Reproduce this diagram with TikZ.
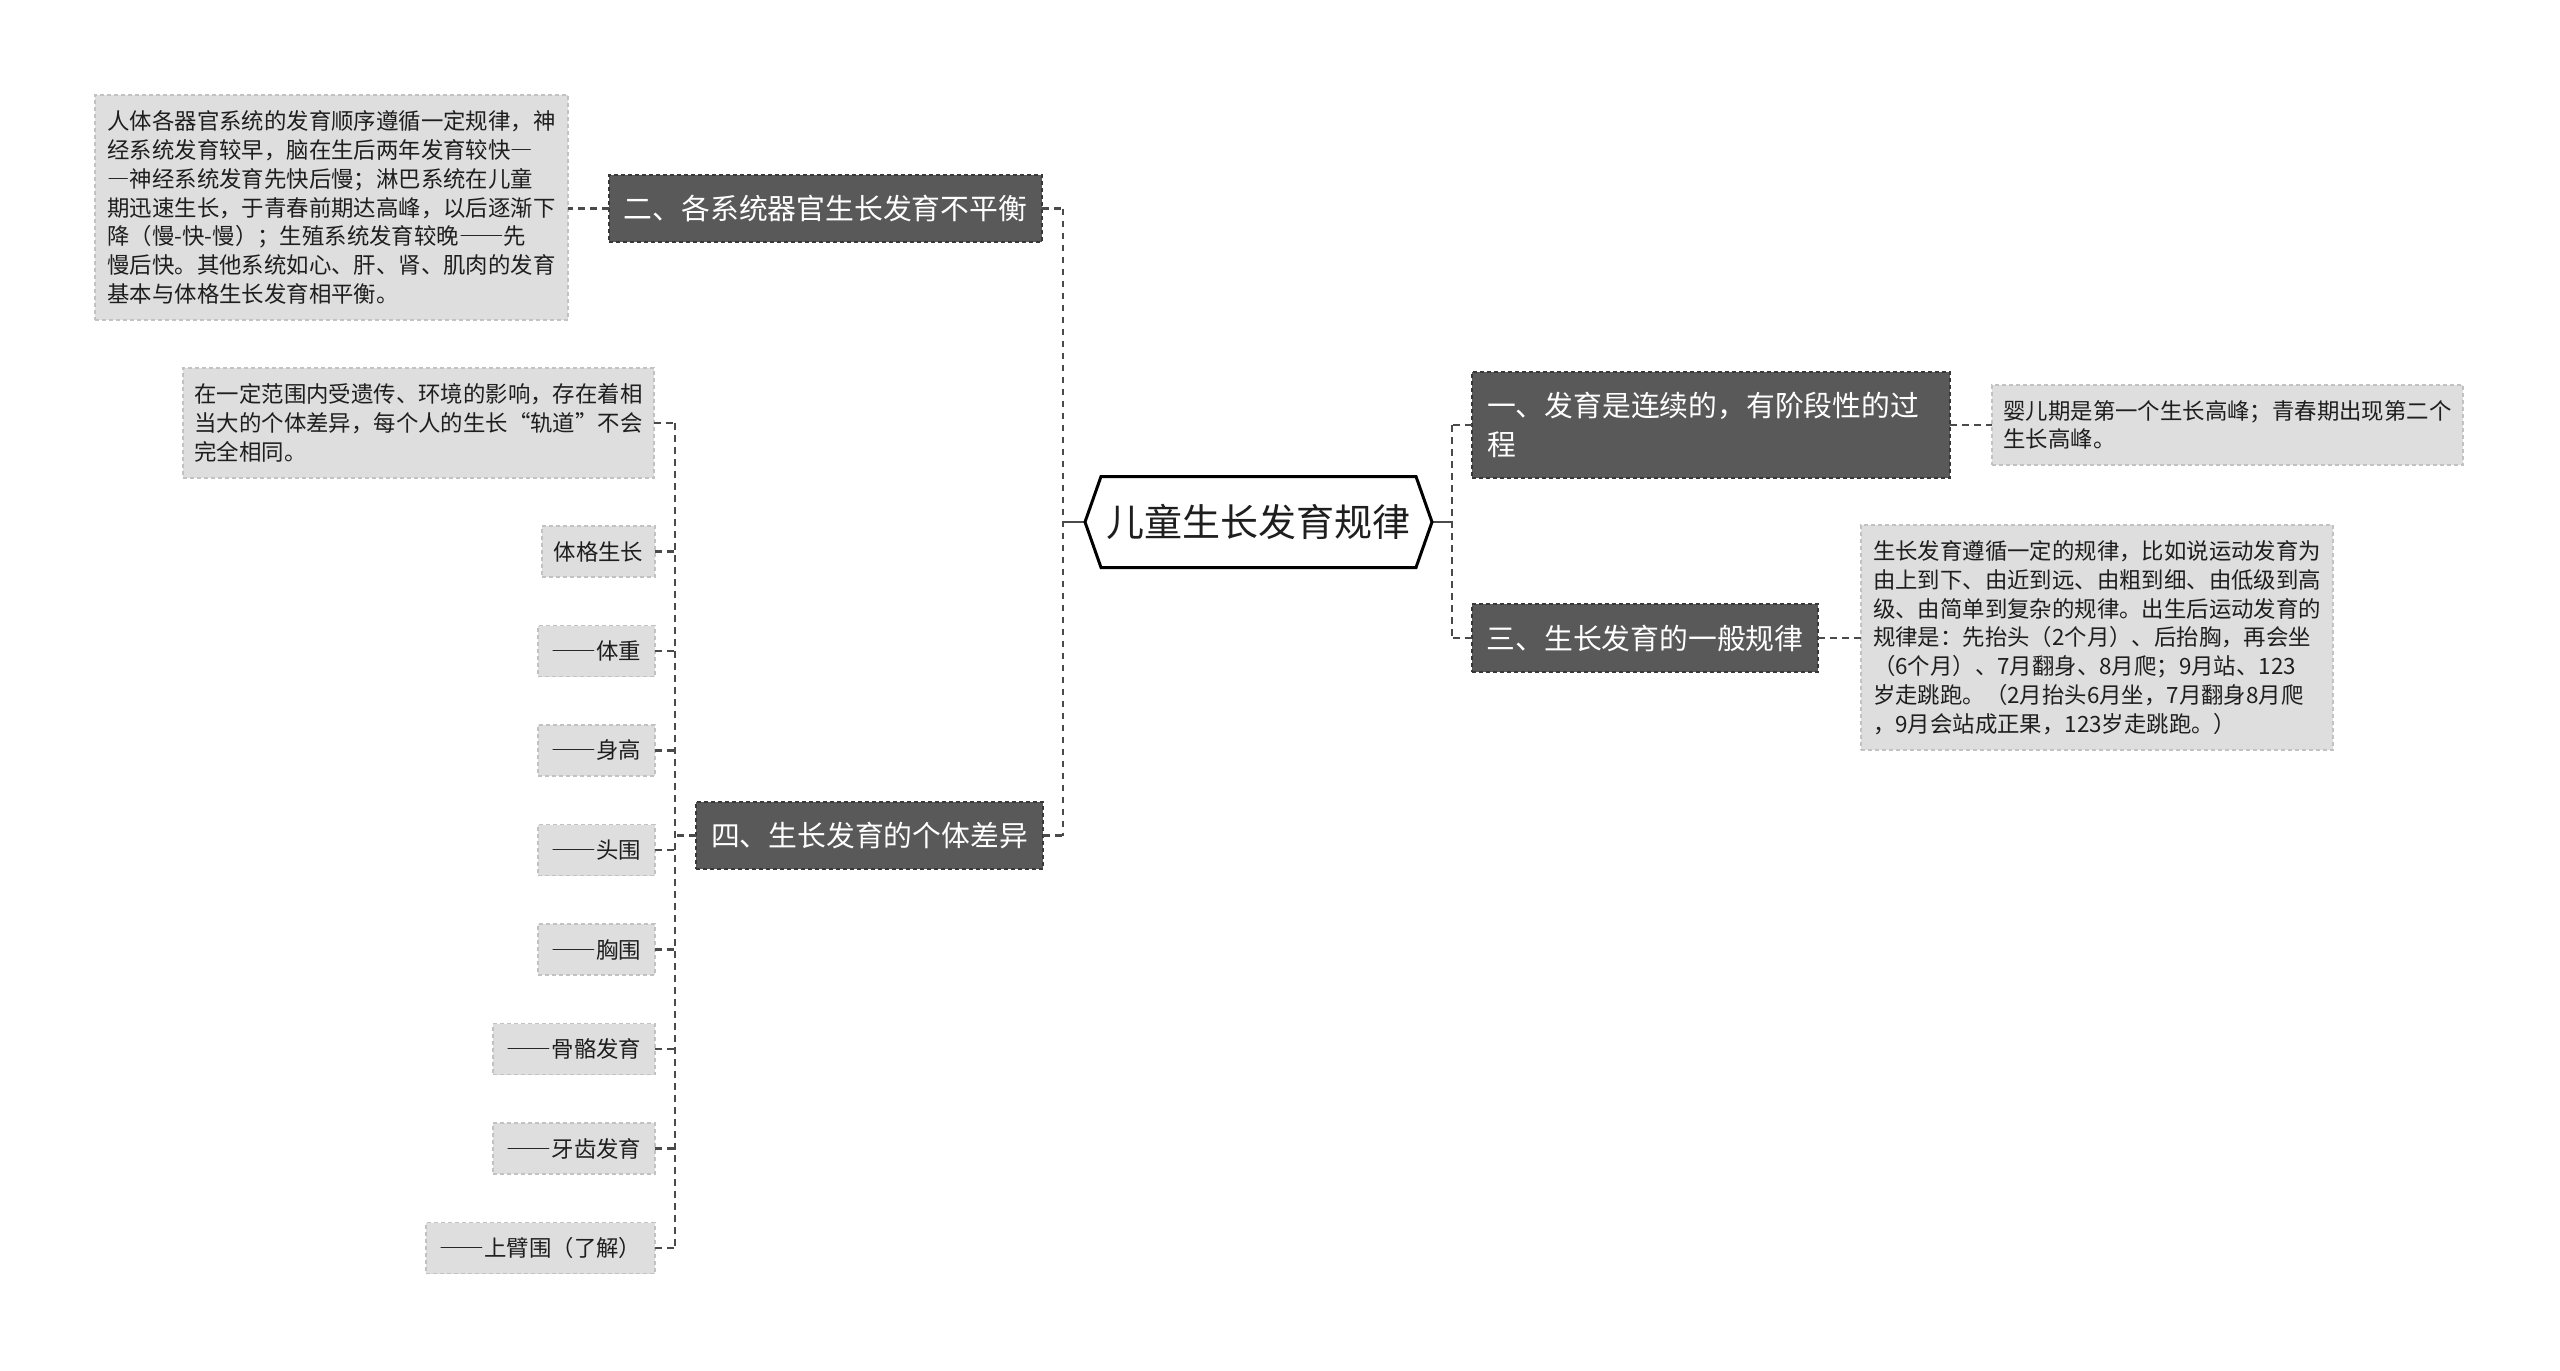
\documentclass[tikz,border=0pt]{standalone}
\usepackage{fontspec}
\setmainfont{Noto Sans CJK SC}
\newfontfamily\fwfont{Noto Sans CJK SC}[RawFeature=+fwid]
\newcommand{\dd}{{\fwfont ——}}
\newcommand{\sd}{{\fwfont —}}
\usetikzlibrary{calc}
\definecolor{darkfill}{HTML}{595959}
\definecolor{darkedge}{HTML}{383838}
\definecolor{lightfill}{HTML}{DEDEDE}
\definecolor{lightedge}{HTML}{C2C2C2}
\definecolor{linecol}{HTML}{4A4A4A}
\definecolor{inkcol}{HTML}{1E1E1E}
\tikzset{
  box/.style={inner sep=0pt, outer sep=0pt, line width=0.45pt, dash pattern=on 1.2pt off 0.9pt},
  darkbox/.style={box, fill=darkfill, draw=darkedge, text=white, font=\fontsize{8.64}{11.7}\selectfont},
  lightbox/.style={box, fill=lightfill, draw=lightedge, text=inkcol, font=\fontsize{6.72}{8.64}\selectfont, align=left},
  leafbox/.style={lightbox, minimum height=15.3pt, anchor=east},
  rootnode/.style={inner sep=0pt, outer sep=0pt, minimum width=104.1pt, minimum height=27.3pt, text=inkcol, font=\fontsize{11.4}{14}\selectfont},
  conn/.style={draw=linecol, line width=0.7pt, dash pattern=on 2pt off 1.6pt},
  solidconn/.style={draw=linecol, line width=0.7pt},
}
\begin{document}
\begin{tikzpicture}[x=0.3pt,y=-0.3pt]
\useasboundingbox[fill=white] (0,0) rectangle (2560,1370);

% root
\node[rootnode] (root) at (1258.5,522) {儿童生长发育规律};

% left branch
\node[darkbox, minimum width=129.9pt, minimum height=20.1pt] (n2) at (825.5,208.5) {二、各系统器官生长发育不平衡};
\node[lightbox, minimum width=141.9pt, minimum height=67.5pt] (d2) at (331.5,207.5) {人体各器官系统的发育顺序遵循一定规律，神\\经系统发育较早，脑在生后两年发育较快\sd\\\sd 神经系统发育先快后慢；淋巴系统在儿童\\期迅速生长，于青春前期达高峰，以后逐渐下\\降（慢-快-慢）；生殖系统发育较晚\dd 先\\慢后快。其他系统如心、肝、肾、肌肉的发育\\基本与体格生长发育相平衡。};

\node[darkbox, minimum width=104.1pt, minimum height=20.1pt] (n4) at (869.5,835.5) {四、生长发育的个体差异};
\node[lightbox, minimum width=141.3pt, minimum height=33pt] (d4) at (418.5,423) {在一定范围内受遗传、环境的影响，存在着相\\当大的个体差异，每个人的生长“轨道”不会\\完全相同。};

\node[leafbox, minimum width=33.9pt] (l1) at (655,551.5) {体格生长};
\node[leafbox, minimum width=35.1pt] (l2) at (655,651) {\dd 体重};
\node[leafbox, minimum width=35.1pt] (l3) at (655,750.5) {\dd 身高};
\node[leafbox, minimum width=35.1pt] (l4) at (655,850) {\dd 头围};
\node[leafbox, minimum width=35.1pt] (l5) at (655,949.5) {\dd 胸围};
\node[leafbox, minimum width=48.6pt] (l6) at (655,1049) {\dd 骨骼发育};
\node[leafbox, minimum width=48.6pt] (l7) at (655,1148.5) {\dd 牙齿发育};
\node[leafbox, minimum width=68.7pt] (l8) at (655,1248) {\dd 上臂围（了解）};

% right branch
\node[darkbox, minimum width=143.4pt, minimum height=31.8pt, text width=134.4pt, align=left] (n1) at (1711,425) {一、发育是连续的，有阶段性的过\\程};
\node[lightbox, minimum width=141.3pt, minimum height=24pt] (d1) at (2227.5,425) {婴儿期是第一个生长高峰；青春期出现第二个\\生长高峰。};

\node[darkbox, minimum width=103.8pt, minimum height=20.4pt] (n3) at (1645,638) {三、生长发育的一般规律};
\node[lightbox, minimum width=141.6pt, minimum height=67.5pt] (d3) at (2097,637.5) {生长发育遵循一定的规律，比如说运动发育为\\由上到下、由近到远、由粗到细、由低级到高\\级、由简单到复杂的规律。出生后运动发育的\\规律是：先抬头（2个月）、后抬胸，再会坐\\（6个月）、7月翻身、8月爬；9月站、123\\岁走跳跑。（2月抬头6月坐，7月翻身8月爬\\，9月会站成正果，123岁走跳跑。）};

% trunk coordinates
\coordinate (tL) at (1063,522);
\coordinate (tR) at (1452,522);
\coordinate (tC) at (675,835.5);

% root to trunks
\draw[solidconn] (root.west) -- (tL);
\draw[solidconn] (root.east) -- (tR);

% left trunk
\draw[conn] (n2.east) -- (n2.east -| tL);
\draw[conn] (n4.east) -- (n4.east -| tL);
\draw[conn] (n2.east -| tL) -- (n4.east -| tL);

% right trunk
\draw[conn] (n1.west) -- (n1.west -| tR);
\draw[conn] (n3.west) -- (n3.west -| tR);
\draw[conn] (n1.west -| tR) -- (n3.west -| tR);

% details
\draw[conn] (n2.west) -- (n2.west -| d2.east);
\draw[conn] (n1.east) -- (n1.east -| d1.west);
\draw[conn] (n3.east) -- (n3.east -| d3.west);

% branch four children
\draw[conn] (n4.west) -- (tC);
\draw[conn] (d4.east -| tC) -- (l8.east -| tC);
\draw[conn] (d4.east) -- (d4.east -| tC);
\foreach \k in {l1,l2,l3,l4,l5,l6,l7,l8} {
  \draw[conn] (\k.east) -- (\k.east -| tC);
}

% hexagon outline of root
\draw[line width=0.9pt, black, line join=miter]
  (root.west) -- ([xshift=4.8pt]root.north west) -- ([xshift=-4.8pt]root.north east)
  -- (root.east) -- ([xshift=-4.8pt]root.south east) -- ([xshift=4.8pt]root.south west) -- cycle;
\end{tikzpicture}
\end{document}
